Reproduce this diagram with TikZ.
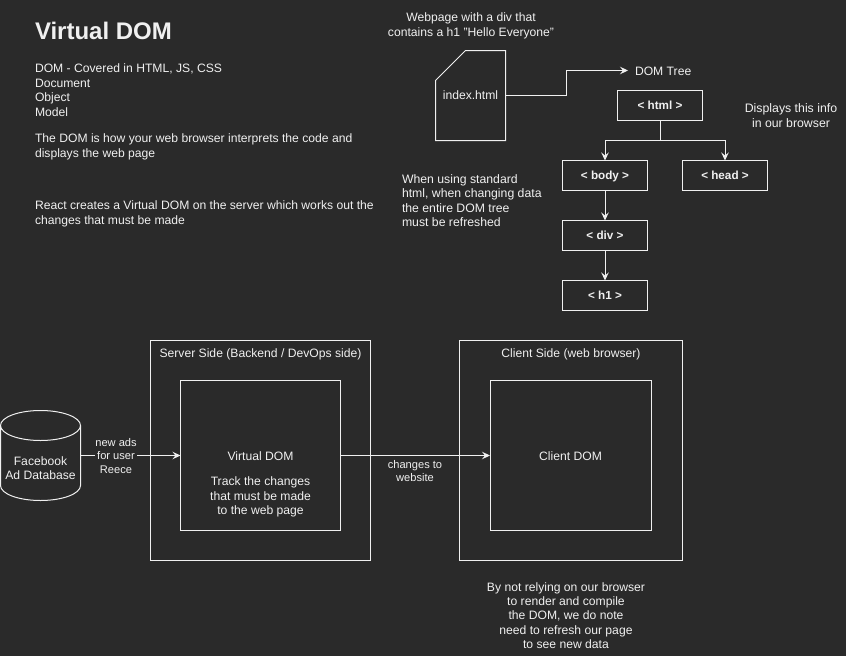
\documentclass[tikz,border=0pt]{standalone}
\usepackage{fontspec}
\setmainfont{Liberation Sans}
\usetikzlibrary{arrows.meta}
\definecolor{bgc}{HTML}{2A2A2A}
\definecolor{fgc}{HTML}{F0F0F0}
\tikzset{
  every node/.style={text=fgc,font=\fontsize{12.15}{14.4}\selectfont,inner sep=0pt,outer sep=0pt},
  lineart/.style={draw=fgc,line width=1pt},
  tagbox/.style={lineart,minimum width=85pt,minimum height=30pt,text height=8pt,text depth=0pt,font=\fontsize{11.7}{14.4}\selectfont\bfseries},
  panel/.style={lineart,anchor=north west},
  txtl/.style={align=left,anchor=north west},
  txtc/.style={align=center},
  edgelabel/.style={align=center,fill=bgc,font=\fontsize{11.1}{13.2}\selectfont},
  conn/.style={draw=fgc,line width=1pt,-{Stealth[length=8pt,width=7.5pt,inset=3pt]}}
}
\begin{document}
\begin{tikzpicture}[x=1pt,y=-1pt]
\useasboundingbox[fill=bgc] (0,0) rectangle (846,656);
% title and notes
\node[txtl,font=\fontsize{24}{28.8}\selectfont\bfseries] (title) at (35,22) {Virtual DOM};
\node[txtl] (dominfo) at (35,64) {DOM - Covered in HTML, JS, CSS\\Document\\Object\\Model};
\node[txtl] (domhow) at (35,134) {The DOM is how your web browser interprets the code and\\displays the web page};
\node[txtl] (react) at (35,201) {React creates a Virtual DOM on the server which works out the\\changes that must be made};
\node[txtc] (webpage) at (471,26) {Webpage with a div that\\contains a h1 "Hello Everyone"};
\node[txtl,font=\fontsize{12.25}{14.4}\selectfont] (standard) at (402,174.5) {When using standard\\html, when changing data\\the entire DOM tree\\must be refreshed};
\node[txtc,font=\fontsize{12.3}{14.4}\selectfont] (displays) at (791,115.5) {Displays this info\\in our browser};
% file
\node[minimum width=70pt,minimum height=90pt] (file) at (470.5,95.5) {index.html};
\draw[lineart,line join=miter] (465.5,50.5) -- (505.5,50.5) -- (505.5,140.5) -- (435.5,140.5) -- (435.5,80.5) -- cycle;
\node[anchor=west] (domtree) at (635,71.5) {DOM Tree};
\coordinate (domtip) at (628,70.5);
\draw[conn] (file.east) -- (566.5,95.5) -- (566.5,70.5) -- (domtip);
% tree
\node[tagbox] (html) at (660,105.5) {< html >};
\node[tagbox] (body) at (605,175.5) {< body >};
\node[tagbox] (head) at (725,175.5) {< head >};
\node[tagbox] (div) at (605,235.5) {< div >};
\node[tagbox] (h1) at (605,295.5) {< h1 >};
\draw[conn] (html.south) -- (660,140.5) -- (605,140.5) -- (body.north);
\draw[conn] (html.south) -- (660,140.5) -- (725,140.5) -- (head.north);
\draw[conn] (body.south) -- (div.north);
\draw[conn] (div.south) -- (h1.north);
% server
\node[panel,minimum width=220pt,minimum height=220pt] (server) at (150.5,340.5) {};
\node (servert) at (260.5,354.5) {Server Side (Backend / DevOps side)};
\node[panel,minimum width=160pt,minimum height=150pt] (vdom) at (180.5,380.5) {};
\node[txtc] (vdomt) at (260.5,484.5) {Virtual DOM\\[10.6pt]Track the changes\\that must be made\\to the web page};
% client
\node[panel,minimum width=223pt,minimum height=220pt] (client) at (459.5,340.5) {};
\node (clientt) at (571,354.5) {Client Side (web browser)};
\node[draw=fgc,line width=1pt,anchor=north west,minimum width=161pt,minimum height=150pt,text height=9pt,text depth=0pt] (cdom) at (490,380.5) {Client DOM};
% database
\node[minimum width=80pt,minimum height=90pt] (db) at (40.5,455.5) {};
\draw[lineart] (0.5,425.5) arc[start angle=180,end angle=0,x radius=40,y radius=15]
  arc[start angle=0,end angle=-180,x radius=40,y radius=15] -- (0.5,485.5)
  arc[start angle=180,end angle=0,x radius=40,y radius=15] -- (80.5,425.5);
\node[txtc] (dbt) at (40.5,468) {Facebook\\Ad Database};
% connectors
\draw[conn] (db.east) -- (vdom.west) node[edgelabel,pos=0.35,xshift=0.5pt,yshift=-0.5pt] (adsl) {new ads\\for user\\Reece};
\draw[conn] (vdom.east) -- (cdom.west);
\node[edgelabel] (changesl) at (415,471) {changes to\\website};
\node[txtc] (note) at (566,615.5) {By not relying on our browser\\to render and compile\\the DOM, we do note\\need to refresh our page\\to see new data};
\end{tikzpicture}
\end{document}
